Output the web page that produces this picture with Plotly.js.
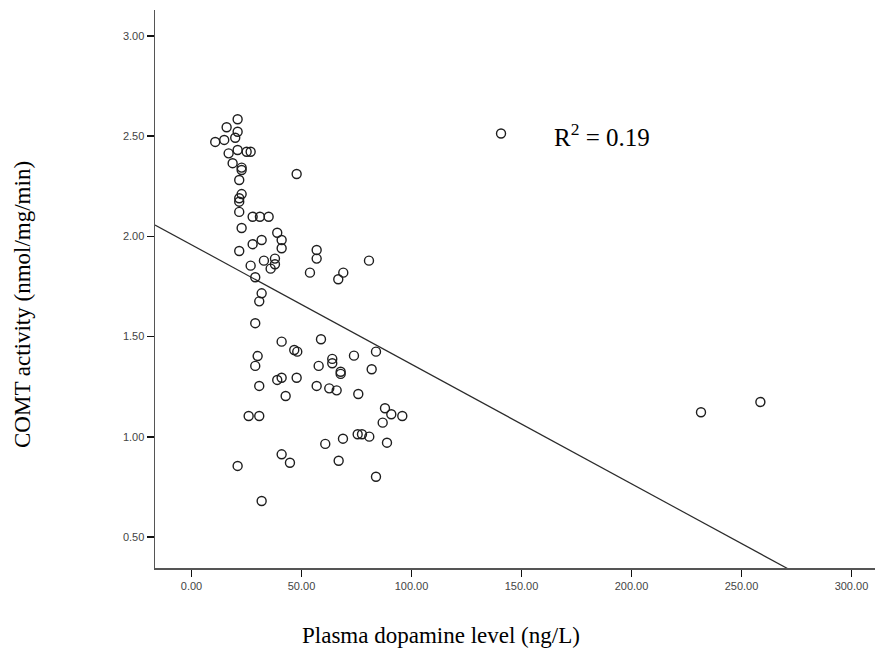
<!DOCTYPE html>
<html>
<head>
<meta charset="utf-8">
<script src="https://cdn.plot.ly/plotly-3.0.1.min.js"></script>
<style>html,body{margin:0;padding:0;background:#fff;}#chart{width:875px;height:648px;}</style>
</head>
<body>
<div id="chart"></div>
<script>
// Plasma dopamine level (ng/L)
const dopamine = [20.96,15.96,20.96,19.87,14.87,10.78,20.96,16.87,25.06,26.88,
  18.69,22.78,22.78,21.69,47.79,22.78,21.69,21.69,21.69,27.79,
  31.1,35.06,22.78,38.97,40.97,31.88,27.79,40.97,21.69,56.89,
  56.89,32.92,37.93,37.93,35.97,26.88,53.84,28.97,68.99,66.71,
  80.67,31.88,30.79,28.97,40.97,46.7,48.07,58.85,30.06,28.97,
  57.8,63.98,63.98,73.85,83.86,67.8,67.8,81.9,38.97,40.97,
  47.79,30.79,56.89,62.62,65.98,75.81,42.79,25.97,30.79,87.95,
  90.82,95.82,86.9,60.8,68.85,75.53,77.49,80.81,88.86,40.97,
  44.75,66.89,20.96,83.86,31.88,140.7,231.6,258.6];
// COMT activity (nmol/mg/min)
const comt = [2.584,2.544,2.522,2.492,2.481,2.471,2.431,2.414,2.422,2.422,
  2.365,2.343,2.331,2.281,2.311,2.211,2.190,2.173,2.122,2.098,
  2.098,2.098,2.042,2.018,1.982,1.982,1.961,1.941,1.927,1.932,
  1.889,1.879,1.889,1.861,1.839,1.854,1.819,1.796,1.819,1.786,
  1.879,1.716,1.676,1.567,1.475,1.433,1.425,1.487,1.403,1.354,
  1.354,1.389,1.367,1.405,1.425,1.325,1.314,1.337,1.284,1.295,
  1.295,1.254,1.254,1.242,1.232,1.214,1.204,1.104,1.104,1.143,
  1.113,1.104,1.071,0.965,0.991,1.013,1.013,1.001,0.971,0.913,
  0.871,0.881,0.855,0.801,0.680,2.513,1.123,1.174];

const fitIntercept = 1.958;
const fitSlope = -0.00596;
const rSquared = "0.19";

const xTitle = 'Plasma dopamine level (ng/L)';
const yTitle = 'COMT activity (nmol/mg/min)';

const xTicks = [0,50,100,150,200,250,300];
const yTicks = [0.5,1.0,1.5,2.0,2.5,3.0];

const xRange = [-16.6, 310.7];
const yRange = [0.346, 3.129];

const fitX = [xRange[0], xRange[1]];
const fitY = fitX.map(x => fitIntercept + fitSlope * x);

const traces = [
  {
    x: fitX, y: fitY, mode: 'lines', type: 'scatter',
    line: {color: '#2b2b2b', width: 1.2},
    hoverinfo: 'skip', showlegend: false
  },
  {
    x: dopamine, y: comt, mode: 'markers', type: 'scatter',
    marker: {symbol: 'circle-open', size: 9, color: '#1e1e1e', line: {width: 1.4, color: '#1e1e1e'}},
    showlegend: false
  }
];

const tickFont = {family: 'Liberation Sans, Arial, sans-serif', size: 11, color: '#444'};
const serif = 'Liberation Serif, Times New Roman, serif';

const layout = {
  width: 875, height: 648,
  margin: {l: 155, r: 0, t: 10, b: 80},
  paper_bgcolor: '#fff', plot_bgcolor: '#fff',
  showlegend: false,
  xaxis: {
    range: xRange, tickvals: xTicks,
    ticktext: xTicks.map(v => v.toFixed(2)),
    ticks: 'outside', ticklen: 7, tickwidth: 1.5, tickcolor: '#111',
    showline: true, linecolor: '#555', linewidth: 1.5,
    showgrid: false, zeroline: false, tickfont: tickFont
  },
  yaxis: {
    range: yRange, tickvals: yTicks,
    ticktext: yTicks.map(v => v.toFixed(2)),
    ticks: 'outside', ticklen: 7, tickwidth: 1.5, tickcolor: '#111',
    showline: true, linecolor: '#555', linewidth: 1.5,
    showgrid: false, zeroline: false, tickfont: tickFont
  },
  annotations: [
    {
      xref: 'paper', yref: 'paper',
      x: (552 - 155) / 720, y: 1 - (135 - 10) / 558,
      xanchor: 'left', yanchor: 'middle',
      text: 'R<sup>2</sup> = ' + rSquared,
      showarrow: false,
      font: {family: serif, size: 25, color: '#000'}
    },
    {
      xref: 'paper', yref: 'paper',
      x: (441 - 155) / 720, y: 1 - (635 - 10) / 558,
      xanchor: 'center', yanchor: 'middle',
      text: xTitle, showarrow: false,
      font: {family: serif, size: 23, color: '#000'}
    },
    {
      xref: 'paper', yref: 'paper',
      x: (22 - 155) / 720, y: 1 - (305 - 10) / 558,
      xanchor: 'center', yanchor: 'middle', textangle: -90,
      text: yTitle, showarrow: false,
      font: {family: serif, size: 23, color: '#000'}
    }
  ]
};

Plotly.newPlot('chart', traces, layout, {displayModeBar: false, staticPlot: true});
</script>
</body>
</html>
